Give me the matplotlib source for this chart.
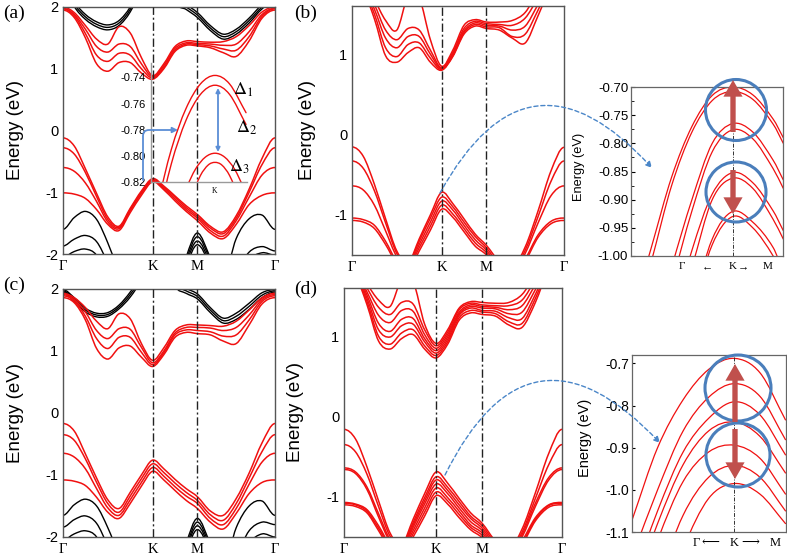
import numpy as np
import matplotlib
matplotlib.use("Agg")
import matplotlib.pyplot as plt
from matplotlib.path import Path
from matplotlib.patches import PathPatch, FancyArrowPatch, Ellipse

W, H = 787, 559
plt.rcParams["font.family"] = ["Liberation Sans", "DejaVu Sans"]
plt.rcParams["axes.unicode_minus"] = False
plt.rcParams["mathtext.fontset"] = "stix"
SERIF = ["Liberation Serif", "DejaVu Serif"]
RED = "#f01010"
CIRCLE_BLUE = "#4a7ebb"
ARROW_RED = "#c0504d"
DASH_BLUE = "#4a86c8"

# ---------------------------------------------------------------------------
# k-path nodes (G-K = 1, K-M = 0.5, M-G = 0.866)
KX = [0, 0.125, 0.25, 0.375, 0.5, 0.625, 0.75, 0.875, 1.0, 1.125, 1.25,
      1.375, 1.5, 1.644, 1.789, 1.933, 2.077, 2.222, 2.366]
K_TICKS = [0, 1.0, 1.5, 2.366]
K_LABELS = ["Γ", "K", "M", "Γ"]

# panel (a)
a_vb1 = [-0.12, -0.25, -0.62, -1.02, -1.40, -1.55, -1.26, -0.98, -0.78, -0.90, -1.06, -1.22, -1.36, -1.55, -1.64, -1.38, -0.95, -0.45, -0.12]
a_vb2 = [-0.28, -0.38, -0.68, -1.07, -1.44, -1.57, -1.28, -1.00, -0.79, -0.92, -1.08, -1.25, -1.39, -1.58, -1.67, -1.42, -1.00, -0.55, -0.28]
a_vb3 = [-0.60, -0.66, -0.85, -1.15, -1.48, -1.59, -1.30, -1.02, -0.81, -0.94, -1.11, -1.28, -1.42, -1.62, -1.71, -1.46, -1.08, -0.72, -0.60]
a_vb4 = [-1.01, -1.03, -1.10, -1.28, -1.52, -1.62, -1.33, -1.05, -0.83, -0.96, -1.14, -1.31, -1.46, -1.66, -1.75, -1.52, -1.20, -1.05, -1.01]
a_cb1 = [2.00, 1.91, 1.70, 1.48, 1.40, 1.68, 1.58, 1.18, 0.89, 1.08, 1.36, 1.45, 1.44, 1.43, 1.44, 1.52, 1.70, 1.92, 2.00]
a_cb2 = [1.98, 1.88, 1.64, 1.36, 1.27, 1.40, 1.36, 1.08, 0.87, 1.05, 1.33, 1.42, 1.41, 1.40, 1.38, 1.40, 1.60, 1.88, 1.98]
a_cb3 = [1.97, 1.86, 1.57, 1.22, 1.12, 1.25, 1.22, 1.00, 0.85, 1.02, 1.30, 1.40, 1.39, 1.37, 1.32, 1.30, 1.52, 1.85, 1.97]
a_cb4 = [1.95, 1.83, 1.50, 1.08, 0.96, 1.10, 1.10, 0.93, 0.83, 1.00, 1.28, 1.38, 1.37, 1.34, 1.26, 1.20, 1.45, 1.82, 1.95]
a_bu1 = [2.40, 2.01, 1.80, 1.68, 1.63, 1.70, 1.92, 2.30, 2.70, 2.70, 2.08, 1.96, 1.83, 1.62, 1.48, 1.56, 1.74, 1.97, 2.10]
a_bu2 = [2.44, 2.05, 1.84, 1.72, 1.67, 1.74, 1.96, 2.34, 2.74, 2.74, 2.12, 2.00, 1.87, 1.66, 1.52, 1.60, 1.78, 2.00, 2.14]
a_bu3 = [2.48, 2.09, 1.88, 1.76, 1.71, 1.78, 2.00, 2.38, 2.78, 2.78, 2.16, 2.04, 1.91, 1.70, 1.56, 1.64, 1.82, 2.04, 2.18]
a_bl1 = [-1.60, -1.41, -1.31, -1.44, -1.82, -2.30, -2.80, -3.00, -3.00, -3.00, -2.70, -2.05, -1.66, -2.05, -2.40, -1.75, -1.43, -1.37, -1.60]
a_bl2 = [-1.87, -1.76, -1.70, -1.80, -2.15, -2.60, -3.00, -3.00, -3.00, -3.00, -2.70, -2.10, -1.72, -2.10, -2.60, -2.30, -1.97, -1.88, -1.95]
a_bl3 = [-2.05, -1.96, -1.92, -2.02, -2.40, -2.80, -3.00, -3.00, -3.00, -3.00, -2.80, -2.15, -1.79, -2.15, -2.70, -2.50, -2.10, -1.98, -2.02]
a_bl4 = [-2.30, -2.20, -2.15, -2.30, -2.60, -3.00, -3.00, -3.00, -3.00, -3.00, -2.80, -2.20, -1.85, -2.20, -2.80, -2.70, -2.30, -2.15, -2.20]

# panel (b)
b_vb1 = [-0.155, -0.27, -0.62, -1.05, -1.45, -1.60, -1.30, -1.00, -0.72, -0.86, -1.05, -1.24, -1.38, -1.58, -1.66, -1.40, -0.95, -0.45, -0.16]
b_vb2 = [-0.33, -0.42, -0.70, -1.10, -1.48, -1.62, -1.33, -1.04, -0.78, -0.90, -1.09, -1.27, -1.41, -1.62, -1.70, -1.44, -1.02, -0.58, -0.33]
b_vb3 = [-0.64, -0.69, -0.88, -1.20, -1.52, -1.64, -1.37, -1.09, -0.83, -0.94, -1.13, -1.31, -1.44, -1.66, -1.74, -1.48, -1.10, -0.76, -0.64]
b_vb4 = [-1.04, -1.06, -1.13, -1.33, -1.58, -1.66, -1.41, -1.14, -0.88, -0.99, -1.17, -1.35, -1.47, -1.70, -1.78, -1.55, -1.25, -1.08, -1.04]
b_vb5 = [-1.07, -1.09, -1.17, -1.37, -1.61, -1.70, -1.45, -1.19, -0.93, -1.03, -1.21, -1.39, -1.50, -1.73, -1.80, -1.58, -1.28, -1.11, -1.07]
b_cb1 = [2.00, 1.92, 1.68, 1.42, 1.30, 1.72, 1.70, 1.18, 0.85, 1.05, 1.36, 1.43, 1.40, 1.40, 1.42, 1.52, 1.78, 1.96, 2.00]
b_cb2 = [1.98, 1.88, 1.62, 1.30, 1.18, 1.32, 1.30, 1.05, 0.83, 1.02, 1.32, 1.41, 1.38, 1.37, 1.36, 1.45, 1.70, 1.93, 1.98]
b_cb3 = [1.96, 1.85, 1.56, 1.20, 1.08, 1.22, 1.22, 1.00, 0.82, 1.00, 1.29, 1.39, 1.36, 1.35, 1.30, 1.35, 1.62, 1.90, 1.96]
b_cb4 = [1.94, 1.82, 1.50, 1.08, 0.97, 1.12, 1.14, 0.95, 0.81, 0.98, 1.27, 1.37, 1.34, 1.33, 1.22, 1.25, 1.55, 1.87, 1.94]
b_cb5 = [1.92, 1.79, 1.44, 0.98, 0.90, 1.02, 1.08, 0.90, 0.80, 0.97, 1.25, 1.35, 1.32, 1.30, 1.20, 1.14, 1.48, 1.84, 1.92]

# panel (c)
c_vb1 = [-0.17, -0.29, -0.66, -1.05, -1.40, -1.54, -1.28, -1.00, -0.76, -0.90, -1.07, -1.22, -1.35, -1.58, -1.65, -1.38, -0.97, -0.48, -0.17]
c_vb2 = [-0.35, -0.44, -0.74, -1.12, -1.46, -1.60, -1.34, -1.06, -0.82, -0.96, -1.13, -1.28, -1.41, -1.64, -1.73, -1.46, -1.05, -0.62, -0.35]
c_vb3 = [-0.65, -0.71, -0.90, -1.22, -1.53, -1.65, -1.40, -1.12, -0.88, -1.02, -1.19, -1.34, -1.46, -1.70, -1.80, -1.54, -1.15, -0.79, -0.65]
c_vb4 = [-1.08, -1.10, -1.17, -1.36, -1.60, -1.70, -1.46, -1.18, -0.94, -1.08, -1.25, -1.41, -1.54, -1.76, -1.87, -1.62, -1.30, -1.12, -1.08]
c_cb1 = [1.93, 1.86, 1.70, 1.48, 1.36, 1.60, 1.52, 1.12, 0.85, 1.05, 1.33, 1.42, 1.42, 1.41, 1.40, 1.48, 1.66, 1.86, 1.93]
c_cb2 = [1.91, 1.83, 1.63, 1.33, 1.20, 1.36, 1.35, 1.06, 0.81, 1.00, 1.29, 1.38, 1.38, 1.37, 1.33, 1.38, 1.58, 1.83, 1.91]
c_cb3 = [1.89, 1.81, 1.56, 1.20, 1.04, 1.22, 1.22, 0.98, 0.78, 0.97, 1.26, 1.34, 1.33, 1.31, 1.24, 1.26, 1.50, 1.80, 1.89]
c_cb4 = [1.86, 1.78, 1.50, 1.04, 0.87, 1.05, 1.08, 0.90, 0.75, 0.94, 1.22, 1.30, 1.28, 1.26, 1.16, 1.12, 1.42, 1.76, 1.86]
c_bu1 = [1.95, 1.80, 1.63, 1.55, 1.56, 1.68, 1.87, 2.15, 2.60, 2.60, 2.05, 1.93, 1.84, 1.62, 1.45, 1.51, 1.67, 1.86, 1.95]
c_bu2 = [1.97, 1.83, 1.66, 1.58, 1.59, 1.71, 1.91, 2.19, 2.64, 2.64, 2.09, 1.97, 1.88, 1.66, 1.49, 1.56, 1.72, 1.90, 1.97]
c_bu3 = [1.99, 1.86, 1.69, 1.61, 1.62, 1.74, 1.95, 2.23, 2.68, 2.68, 2.13, 2.01, 1.92, 1.70, 1.53, 1.61, 1.77, 1.94, 1.99]
c_bl1 = [-1.65, -1.48, -1.39, -1.50, -1.85, -2.30, -2.80, -3.00, -3.00, -3.00, -2.70, -2.10, -1.70, -2.10, -2.50, -1.85, -1.50, -1.42, -1.65]
c_bl2 = [-1.84, -1.72, -1.66, -1.78, -2.15, -2.60, -3.00, -3.00, -3.00, -3.00, -2.70, -2.15, -1.76, -2.15, -2.60, -2.30, -1.90, -1.76, -1.80]
c_bl3 = [-2.05, -1.95, -1.90, -2.00, -2.40, -2.80, -3.00, -3.00, -3.00, -3.00, -2.80, -2.20, -1.82, -2.20, -2.70, -2.50, -2.10, -1.95, -2.00]
c_bl4 = [-2.30, -2.20, -2.15, -2.30, -2.60, -3.00, -3.00, -3.00, -3.00, -3.00, -2.80, -2.25, -1.88, -2.25, -2.80, -2.70, -2.30, -2.15, -2.20]

# panel (d)
d_vb1 = [-0.16, -0.28, -0.63, -1.05, -1.45, -1.60, -1.28, -0.96, -0.69, -0.83, -1.02, -1.20, -1.33, -1.55, -1.66, -1.40, -0.95, -0.46, -0.16]
d_vb2 = [-0.35, -0.44, -0.72, -1.12, -1.49, -1.62, -1.32, -1.01, -0.75, -0.88, -1.06, -1.24, -1.36, -1.58, -1.69, -1.44, -1.02, -0.60, -0.35]
d_vb3 = [-0.64, -0.69, -0.88, -1.21, -1.53, -1.64, -1.35, -1.05, -0.79, -0.92, -1.10, -1.27, -1.39, -1.61, -1.72, -1.47, -1.08, -0.76, -0.64]
d_vb4 = [-0.66, -0.71, -0.91, -1.25, -1.56, -1.66, -1.38, -1.09, -0.84, -0.96, -1.14, -1.31, -1.42, -1.64, -1.75, -1.50, -1.12, -0.79, -0.66]
d_vb5 = [-1.07, -1.09, -1.16, -1.36, -1.60, -1.68, -1.42, -1.14, -0.89, -1.01, -1.18, -1.35, -1.45, -1.67, -1.78, -1.55, -1.26, -1.10, -1.07]
d_vb6 = [-1.08, -1.10, -1.18, -1.39, -1.62, -1.70, -1.46, -1.19, -0.94, -1.05, -1.22, -1.38, -1.48, -1.70, -1.80, -1.58, -1.28, -1.11, -1.08]
d_vb7 = [-1.10, -1.12, -1.20, -1.42, -1.65, -1.72, -1.50, -1.24, -0.985, -1.09, -1.26, -1.41, -1.51, -1.72, -1.82, -1.60, -1.30, -1.13, -1.10]
d_cb1 = [1.98, 1.88, 1.65, 1.45, 1.37, 1.70, 1.68, 1.15, 0.91, 1.08, 1.35, 1.43, 1.42, 1.41, 1.42, 1.52, 1.76, 1.95, 1.98]
d_cb2 = [1.96, 1.86, 1.60, 1.36, 1.27, 1.42, 1.40, 1.08, 0.88, 1.05, 1.33, 1.41, 1.39, 1.38, 1.38, 1.45, 1.70, 1.93, 1.96]
d_cb3 = [1.95, 1.84, 1.55, 1.26, 1.17, 1.32, 1.31, 1.02, 0.85, 1.02, 1.30, 1.39, 1.37, 1.36, 1.33, 1.38, 1.64, 1.91, 1.95]
d_cb4 = [1.94, 1.82, 1.51, 1.16, 1.06, 1.21, 1.22, 0.97, 0.82, 0.99, 1.28, 1.37, 1.35, 1.34, 1.28, 1.30, 1.58, 1.89, 1.94]
d_cb5 = [1.93, 1.80, 1.47, 1.08, 0.99, 1.13, 1.15, 0.93, 0.79, 0.96, 1.26, 1.35, 1.32, 1.31, 1.23, 1.22, 1.52, 1.87, 1.93]
d_cb6 = [1.92, 1.78, 1.43, 1.00, 0.90, 1.04, 1.08, 0.88, 0.76, 0.93, 1.23, 1.32, 1.30, 1.28, 1.18, 1.16, 1.47, 1.85, 1.92]
d_cb7 = [1.91, 1.76, 1.39, 0.94, 0.84, 0.97, 1.02, 0.84, 0.73, 0.90, 1.20, 1.29, 1.27, 1.25, 1.14, 1.11, 1.42, 1.83, 1.91]

# inset in (a): k offset from K (arb. units), energy (eV)
ia_big_x = [-60, -45, -30, -15, 0, 15, 32]
ia_big1 = [-0.839, -0.795, -0.764, -0.745, -0.7385, -0.745, -0.767]
ia_big2 = [-0.853, -0.806, -0.773, -0.753, -0.746, -0.753, -0.776]
ia_small_x = [-30, -20, -10, 0, 10, 20, 30]
ia_small1 = [-0.825, -0.810, -0.801, -0.798, -0.801, -0.810, -0.825]
ia_inner_x = [-25, -15, -7, 0, 7, 15, 25]
ia_small2 = [-0.8325, -0.815, -0.807, -0.805, -0.807, -0.815, -0.8325]
ia_yticks = [-0.82, -0.80, -0.78, -0.76, -0.74]

# zoom inset next to (b): k offset from K, energy (eV)
ib_x = [-1.0, -0.8, -0.6, -0.4, -0.2, 0, 0.2, 0.4, 0.5]
ib_a1 = [-1.11, -0.985, -0.86, -0.77, -0.715, -0.700, -0.714, -0.757, -0.79]
ib_a2 = [-1.14, -1.01, -0.875, -0.78, -0.724, -0.708, -0.722, -0.766, -0.80]
ib_b1 = [-1.30, -1.15, -1.02, -0.90, -0.80, -0.765, -0.78, -0.83, -0.865]
ib_b2 = [-1.33, -1.18, -1.05, -0.92, -0.815, -0.776, -0.792, -0.845, -0.88]
ib_c1 = [-1.40, -1.26, -1.12, -0.99, -0.89, -0.852, -0.87, -0.92, -0.955]
ib_c2 = [-1.42, -1.28, -1.14, -1.02, -0.90, -0.862, -0.88, -0.935, -0.97]
ib_d1 = [-1.50, -1.36, -1.22, -1.09, -0.97, -0.921, -0.94, -0.985, -1.03]
ib_d2 = [-1.52, -1.38, -1.24, -1.10, -0.98, -0.930, -0.95, -1.00, -1.04]
ib_yticks = [-1.00, -0.95, -0.90, -0.85, -0.80, -0.75, -0.70]

# zoom inset next to (d)
id_x = [-1.0, -0.75, -0.5, -0.25, 0, 0.25, 0.5]
id_1 = [-1.072, -0.90, -0.786, -0.714, -0.688, -0.722, -0.834]
id_2 = [-1.16, -1.00, -0.86, -0.78, -0.748, -0.778, -0.881]
id_3 = [-1.22, -1.05, -0.91, -0.83, -0.791, -0.822, -0.917]
id_4 = [-1.25, -1.08, -0.94, -0.86, -0.839, -0.873, -0.96]
id_5 = [-1.30, -1.12, -0.98, -0.91, -0.894, -0.925, -1.01]
id_6 = [-1.40, -1.22, -1.06, -0.97, -0.942, -0.97, -1.05]
id_7 = [-1.50, -1.32, -1.14, -1.02, -0.985, -1.01, -1.08]
id_yticks = [-1.1, -1.0, -0.9, -0.8, -0.7]


def px(x, y):
    """image pixel (from top-left) -> figure fraction"""
    return (x / W, 1 - y / H)


def add_axes_px(fig, left, top, right, bottom):
    return fig.add_axes([left / W, 1 - bottom / H, (right - left) / W, (bottom - top) / H])


def draw_band(ax, xs, ys, color, lw, flat_ends=True):
    # smooth cubic curve through the read-off nodes, drawn as a matplotlib Path
    xs = np.asarray(xs, float)
    ys = np.asarray(ys, float)
    m = np.empty(len(xs))
    m[1:-1] = (ys[2:] - ys[:-2]) / (xs[2:] - xs[:-2])
    if flat_ends:
        m[0] = m[-1] = 0.0
    else:
        m[0] = (ys[1] - ys[0]) / (xs[1] - xs[0])
        m[-1] = (ys[-1] - ys[-2]) / (xs[-1] - xs[-2])
    verts = [(xs[0], ys[0])]
    codes = [Path.MOVETO]
    for i in range(len(xs) - 1):
        h = xs[i + 1] - xs[i]
        verts += [(xs[i] + h / 3, ys[i] + m[i] * h / 3),
                  (xs[i + 1] - h / 3, ys[i + 1] - m[i + 1] * h / 3),
                  (xs[i + 1], ys[i + 1])]
        codes += [Path.CURVE4] * 3
    ax.add_patch(PathPatch(Path(verts, codes), fill=False, edgecolor=color,
                           lw=lw, capstyle="round", joinstyle="round"))


def main_panel(ax, ylim, yticks, red_bands, black_bands, label_x):
    for b in black_bands:
        draw_band(ax, KX, b, "black", 1.0)
    for b in red_bands:
        draw_band(ax, KX, b, RED, 1.1)
    ax.set_xlim(0, 2.366)
    ax.set_ylim(*ylim)
    for xv in (1.0, 1.5):
        ax.axvline(xv, color="#222222", lw=1.0, dashes=(6, 2, 1.5, 2), zorder=3)
    ax.set_xticks(K_TICKS)
    ax.set_xticklabels(K_LABELS, fontfamily=SERIF, fontsize=12.5)
    ax.set_yticks(yticks)
    ax.set_yticklabels([str(t) for t in yticks])
    ax.tick_params(length=0, labelsize=10.5)
    ax.tick_params(axis="x", pad=4)
    for s in ax.spines.values():
        s.set_color("#555555")
        s.set_linewidth(1.0)
    ax.set_ylabel("Energy (eV)", fontsize=13.5)
    ax.yaxis.set_label_coords(label_x, 0.5)


fig = plt.figure(figsize=(W / 100, H / 100), dpi=100)

ax_a = add_axes_px(fig, 63, 7, 275, 254)
main_panel(ax_a, (-2, 2), [-2, -1, 0, 1, 2],
           [a_vb1, a_vb2, a_vb3, a_vb4, a_cb1, a_cb2, a_cb3, a_cb4],
           [a_bu1, a_bu2, a_bu3, a_bl1, a_bl2, a_bl3, a_bl4], -0.184)

ax_b = add_axes_px(fig, 352, 6, 564, 255)
main_panel(ax_b, (-1.5, 1.6), [-1, 0, 1],
           [b_vb1, b_vb2, b_vb3, b_vb4, b_vb5, b_cb1, b_cb2, b_cb3, b_cb4, b_cb5],
           [], -0.17)

ax_c = add_axes_px(fig, 63, 289, 275, 537)
main_panel(ax_c, (-2, 2), [-2, -1, 0, 1, 2],
           [c_vb1, c_vb2, c_vb3, c_vb4, c_cb1, c_cb2, c_cb3, c_cb4],
           [c_bu1, c_bu2, c_bu3, c_bl1, c_bl2, c_bl3, c_bl4], -0.184)

ax_d = add_axes_px(fig, 344, 288, 562, 537)
main_panel(ax_d, (-1.5, 1.6), [-1, 0, 1],
           [d_vb1, d_vb2, d_vb3, d_vb4, d_vb5, d_vb6, d_vb7,
            d_cb1, d_cb2, d_cb3, d_cb4, d_cb5, d_cb6, d_cb7],
           [], -0.183)

# --- inset inside (a)
ax_ia = add_axes_px(fig, 151, 63, 247, 182)
ax_ia.patch.set_alpha(0)
for xs, ys in [(ia_big_x, ia_big1), (ia_big_x, ia_big2),
               (ia_small_x, ia_small1), (ia_inner_x, ia_small2)]:
    draw_band(ax_ia, xs, ys, RED, 1.0, flat_ends=False)
ax_ia.set_xlim(-66, 33)
ax_ia.set_ylim(-0.82, -0.729)
ax_ia.set_xticks([])
ax_ia.set_yticks(ia_yticks)
ax_ia.set_yticklabels(["%.2f" % t for t in ia_yticks])
ax_ia.tick_params(length=0, labelsize=8, pad=4)
for side in ("top", "right"):
    ax_ia.spines[side].set_visible(False)
for side in ("left", "bottom"):
    ax_ia.spines[side].set_color("#9a9a9a")
    ax_ia.spines[side].set_linewidth(1.0)
ax_ia.text(0, -0.8235, "K", fontfamily=SERIF, fontsize=5.5, ha="center", va="top")

# --- zoom inset next to (b)
ax_ib = add_axes_px(fig, 631, 87, 783, 256)
for ys in [ib_a1, ib_a2, ib_b1, ib_b2, ib_c1, ib_c2, ib_d1, ib_d2]:
    draw_band(ax_ib, ib_x, ys, RED, 0.9, flat_ends=False)
ax_ib.axvline(0, color="#333333", lw=0.7, dashes=(4, 1.5, 1, 1.5))
ax_ib.set_xlim(-1.0, 0.497)
ax_ib.set_ylim(-1.0, -0.70)
ax_ib.set_xticks([])
ax_ib.set_yticks(ib_yticks)
ax_ib.set_yticklabels(["%.2f" % t for t in ib_yticks])
ax_ib.set_yticks([-0.975, -0.925, -0.875, -0.825, -0.775, -0.725], minor=True)
ax_ib.tick_params(axis="y", which="major", direction="in", length=3, labelsize=9.5, pad=2)
ax_ib.tick_params(axis="y", which="minor", direction="in", length=2)
for s in ax_ib.spines.values():
    s.set_color("#666666")
    s.set_linewidth(0.9)
ax_ib.set_ylabel("Energy (eV)", fontsize=9.2)
ax_ib.yaxis.set_label_coords(-0.30, 0.527)
for xv, t in [(-0.5, "Γ"), (-0.245, "←"), (0, "K"), (0.108, "→"), (0.343, "M")]:
    ax_ib.text(xv, -0.065, t, transform=ax_ib.get_xaxis_transform(),
               fontfamily=SERIF, fontsize=8, ha="center", va="center")

# --- zoom inset next to (d)
ax_id = add_axes_px(fig, 632, 355, 786, 532)
for ys in [id_1, id_2, id_3, id_4, id_5, id_6, id_7]:
    draw_band(ax_id, id_x, ys, RED, 0.9, flat_ends=False)
ax_id.axvline(0, color="#333333", lw=0.7, dashes=(4, 1.5, 1, 1.5))
ax_id.set_xlim(-1.0, 0.505)
ax_id.set_ylim(-1.1, -0.68)
ax_id.set_xticks([])
ax_id.set_yticks(id_yticks)
ax_id.set_yticklabels(["%.1f" % t for t in id_yticks])
ax_id.tick_params(axis="y", direction="in", length=2, labelsize=10, pad=2)
for s in ax_id.spines.values():
    s.set_color("#666666")
    s.set_linewidth(0.9)
ax_id.set_ylabel("Energy (eV)", fontsize=10.5)
ax_id.yaxis.set_label_coords(-0.26, 0.53)
for xv, t in [(-0.37, "Γ"), (-0.23, "⟵"), (0, "K"), (0.155, "⟶"), (0.40, "M")]:
    ax_id.text(xv, -0.06, t, transform=ax_id.get_xaxis_transform(),
               fontfamily=SERIF, fontsize=9, ha="center", va="center")

# --- panel letters
for (x, y, t) in [(3, 13, "(a)"), (294, 13, "(b)"), (3, 285, "(c)"), (294, 289, "(d)")]:
    fig.text(x / W, 1 - y / H, t, fontfamily=SERIF, fontsize=14, ha="left", va="center")

# --- delta labels and arrows of inset (a)
for (x, y, t) in [(233, 90, r"$\Delta_1$"), (236, 128, r"$\Delta_2$"), (229, 167, r"$\Delta_3$")]:
    fig.text(x / W, 1 - y / H, t, fontsize=13, ha="left", va="center")
fig.add_artist(FancyArrowPatch(px(218, 88), px(218, 152), transform=fig.transFigure,
                               arrowstyle="<|-|>", mutation_scale=6, lw=1.3,
                               color="#5b8ed6", shrinkA=0, shrinkB=0))
fig.add_artist(FancyArrowPatch(px(143, 180), px(178, 130), transform=fig.transFigure,
                               arrowstyle="-|>", mutation_scale=8, lw=1.3,
                               color="#5b8ed6", shrinkA=0, shrinkB=0,
                               connectionstyle="angle,angleA=90,angleB=0,rad=6"))

# --- dashed connectors from K to the zoom insets
fig.add_artist(FancyArrowPatch(px(440, 193), px(652, 168), transform=fig.transFigure,
                               arrowstyle="-|>", mutation_scale=9, lw=1.0,
                               linestyle=(0, (3, 2)), color=DASH_BLUE,
                               shrinkA=0, shrinkB=0, connectionstyle="arc3,rad=-0.7"))
fig.add_artist(FancyArrowPatch(px(445, 475), px(660, 443), transform=fig.transFigure,
                               arrowstyle="-|>", mutation_scale=9, lw=1.0,
                               linestyle=(0, (3, 2)), color=DASH_BLUE,
                               shrinkA=0, shrinkB=0, connectionstyle="arc3,rad=-0.72"))

# --- circles and splitting arrows on the zoom insets
for (cx, cy, r) in [(736, 110, 30.5), (736, 192, 30), (738, 388, 33), (738, 455, 32)]:
    fig.add_artist(Ellipse(px(cx, cy), 2 * r / W, 2 * r / H, transform=fig.transFigure,
                           fill=False, ec=CIRCLE_BLUE, lw=2.2))
for (x, y0, y1) in [(733, 132, 80), (733, 170, 214), (735, 422, 364), (735, 429, 479)]:
    fig.add_artist(FancyArrowPatch(px(x, y0), px(x, y1), transform=fig.transFigure,
                                   arrowstyle="simple,head_length=1.0,head_width=1.15,tail_width=0.32",
                                   mutation_scale=12, color=ARROW_RED, lw=0,
                                   shrinkA=0, shrinkB=0))

fig.savefig("out.png", dpi=100)
